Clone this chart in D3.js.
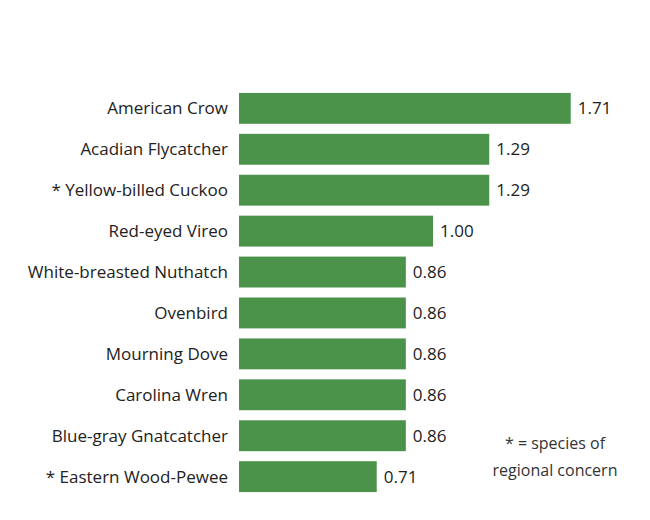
<!DOCTYPE html>
<html><head><meta charset="utf-8">
<script src="https://cdn.jsdelivr.net/npm/d3@7"></script>
<style>body{margin:0;background:#fff}</style></head>
<body><svg id="c" width="650" height="520"></svg>
<script>
const species = ["American Crow","Acadian Flycatcher","* Yellow-billed Cuckoo","Red-eyed Vireo","White-breasted Nuthatch","Ovenbird","Mourning Dove","Carolina Wren","Blue-gray Gnatcatcher","* Eastern Wood-Pewee"];
const values = [1.71,1.29,1.29,1.00,0.86,0.86,0.86,0.86,0.86,0.71];
const noteLines = ["* = species of","regional concern"];

const svg = d3.select("#c");
const x = d3.scaleLinear().domain([0,1]).range([239,433]);
const y = d3.scaleBand().domain(species).range([88,497]).paddingInner(0.245).paddingOuter(0.12);
const font = "'Open Sans', sans-serif";

svg.selectAll("rect.bar").data(values).join("rect")
  .attr("x", x(0)).attr("y",(d,i)=>y(species[i]))
  .attr("width", d=>x(d)-x(0)).attr("height", y.bandwidth())
  .attr("fill","#4b934b");

svg.selectAll("text.v").data(values).join("text")
  .attr("x", d=>x(d)+7).attr("y",(d,i)=>y(species[i])+y.bandwidth()/2)
  .attr("dy","0.35em").attr("font-family",font).attr("font-size",17).attr("fill","#222")
  .text(d=>d.toFixed(2));

svg.selectAll("text.l").data(species).join("text")
  .attr("x", 228).attr("y", d=>y(d)+y.bandwidth()/2).attr("dy","0.35em")
  .attr("text-anchor","end").attr("font-family",font).attr("font-size",17).attr("fill","#222")
  .text(d=>d);

svg.selectAll("text.n").data(noteLines).join("text")
  .attr("x",555).attr("y",(d,i)=>449+i*27).attr("text-anchor","middle")
  .attr("font-family",font).attr("font-size",16).attr("fill","#333").text(d=>d);
</script></body></html>
